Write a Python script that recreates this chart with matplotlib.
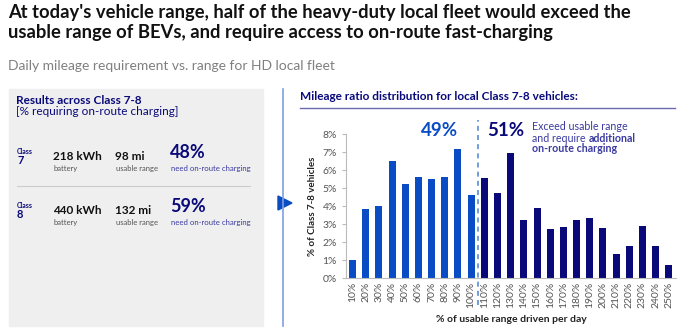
import matplotlib.pyplot as plt
from matplotlib.patches import Rectangle, Polygon
from matplotlib.lines import Line2D

plt.rcParams['font.family'] = ['Lato', 'DejaVu Sans']

# Mileage ratio distribution (% of Class 7-8 vehicles)
faixas = ["10%", "20%", "30%", "40%", "50%", "60%", "70%", "80%", "90%", "100%",
          "110%", "120%", "130%", "140%", "150%", "160%", "170%", "180%", "190%", "200%",
          "210%", "220%", "230%", "240%", "250%"]
valores = [1.0, 3.83, 4.0, 6.48, 5.24, 5.59, 5.48, 5.59, 7.19, 4.59,
           5.54, 4.72, 6.96, 3.24, 3.89, 2.70, 2.83, 3.24, 3.33, 2.78,
           1.35, 1.76, 2.89, 1.76, 0.70]
yticks = [0, 1, 2, 3, 4, 5, 6, 7, 8]
limite = 10  # first bars within usable range

azul = "#0a4cc4"
marinho = "#09097a"
roxo = "#3a3aa0"

W, H = 684, 336
fig = plt.figure(figsize=(6.84, 3.36), dpi=100)


def px(x, y):
    return x / W, 1 - y / H


def texto(x, y, s, **kw):
    fig.text(*px(x, y), s, **kw)


# Title
texto(8, 4, "At today's vehicle range, half of the heavy-duty local fleet would exceed the\n"
      "usable range of BEVs, and require access to on-route fast-charging",
      fontsize=13.2, fontweight="bold", color="#111111", va="top", linespacing=1.2)
texto(8, 66, "Daily mileage requirement vs. range for HD local fleet",
      fontsize=10, color="#808080", va="center")

# Left panel
fig.patches.append(Rectangle(px(9, 326), (263 - 9) / W, (326 - 89) / H,
                             transform=fig.transFigure, color="#efefef", zorder=0))
texto(16, 100, "Results across Class 7-8", fontsize=8.5, fontweight="bold", color=marinho, va="center")
texto(16, 112, "[% requiring on-route charging]", fontsize=8.5, color=marinho, va="center")

linhas = [
    (156, "7", "218 kWh", "98 mi", "48%"),
    (210, "8", "440 kWh", "132 mi", "59%"),
]
for y, classe, bat, rng, pct in linhas:
    texto(17, y - 5, "Class", fontsize=5, fontweight="bold", color=marinho, va="center")
    texto(17, y + 4, classe, fontsize=8, fontweight="bold", color=marinho, va="center")
    texto(53, y, bat, fontsize=8.5, fontweight="bold", color="#111111", va="center")
    texto(53, y + 12, "battery", fontsize=5.5, color="#555555", va="center")
    texto(115, y, rng, fontsize=8.5, fontweight="bold", color="#111111", va="center")
    texto(116, y + 12, "usable range", fontsize=5.5, color="#555555", va="center")
    texto(170, y - 3, pct, fontsize=13, fontweight="bold", color=marinho, va="center")
    texto(171, y + 12, "need on-route charging", fontsize=5.6, color=roxo, va="center")

fig.lines.append(Line2D([17 / W, 250 / W], [1 - 186 / H] * 2, transform=fig.transFigure,
                        color="#cccccc", lw=0.8))

# Divider and arrow
fig.lines.append(Line2D([283 / W] * 2, [1 - 89 / H, 1 - 326 / H], transform=fig.transFigure,
                        color="#7fa0e0", lw=1.2))
fig.patches.append(Polygon([px(278, 196), px(292, 203), px(278, 210)], closed=True,
                           transform=fig.transFigure, color="#0a4cc4"))

# Right panel header
texto(300, 97, "Mileage ratio distribution for local Class 7-8 vehicles:", fontsize=8.5,
      fontweight="bold", color=marinho, va="center")
fig.lines.append(Line2D([300 / W, 675 / W], [1 - 108 / H] * 2, transform=fig.transFigure,
                        color="#6a6ab0", lw=1))

# Bar chart
ax = fig.add_axes([346 / W, 1 - 278 / H, (676 - 346) / W, (278 - 134) / H])
x = list(range(len(faixas)))
cores = [azul if i < limite else marinho for i in x]
ax.bar(x, valores, width=0.53, color=cores)
ax.set_ylim(0, 8)
ax.set_xlim(-0.5, len(faixas) - 0.45)
ax.set_yticks(yticks)
ax.set_yticklabels([f"{t}%" for t in yticks], fontsize=7.5, color="#555555")
ax.set_xticks(x)
ax.set_xticklabels(faixas, rotation=90, fontsize=7.5, color="#555555")
ax.tick_params(axis="x", length=0, pad=3)
ax.tick_params(axis="y", length=3, color="#bbbbbb")
for s in ["top", "right"]:
    ax.spines[s].set_visible(False)
ax.spines["left"].set_color("#bbbbbb")
ax.spines["bottom"].set_color("#bbbbbb")
ax.set_ylabel("% of Class 7-8 vehicles", fontsize=7, fontweight="bold", color="#222222", labelpad=4)
ax.set_xlabel("% of usable range driven per day", fontsize=7.5, fontweight="bold",
              color="#222222", labelpad=5)

# Dashed threshold line between 100% and 110%
ax.axvline(limite - 0.5, ymin=-0.19, ymax=1.1, color="#5b8bd6", lw=1.2, ls=(0, (3, 2.5)),
           clip_on=False)

ax.text(limite - 0.5 - 1.5, 7.9, f"{round(sum(valores[:limite]))}%", ha="right", va="baseline",
        fontsize=13.5, fontweight="bold", color=azul)
ax.text(limite - 0.5 + 0.75, 7.9, "51%", ha="left", va="baseline",
        fontsize=13.5, fontweight="bold", color=marinho)
texto(532, 127, "Exceed usable range", fontsize=7.7, color=roxo, va="center")
texto(532, 138, "and require", fontsize=7.7, color=roxo, va="center")
texto(589, 138, "additional", fontsize=7.7, fontweight="bold", color=roxo, va="center")
texto(532, 149, "on-route charging", fontsize=7.7, fontweight="bold", color=roxo, va="center")

fig.savefig("out.png", dpi=100)
